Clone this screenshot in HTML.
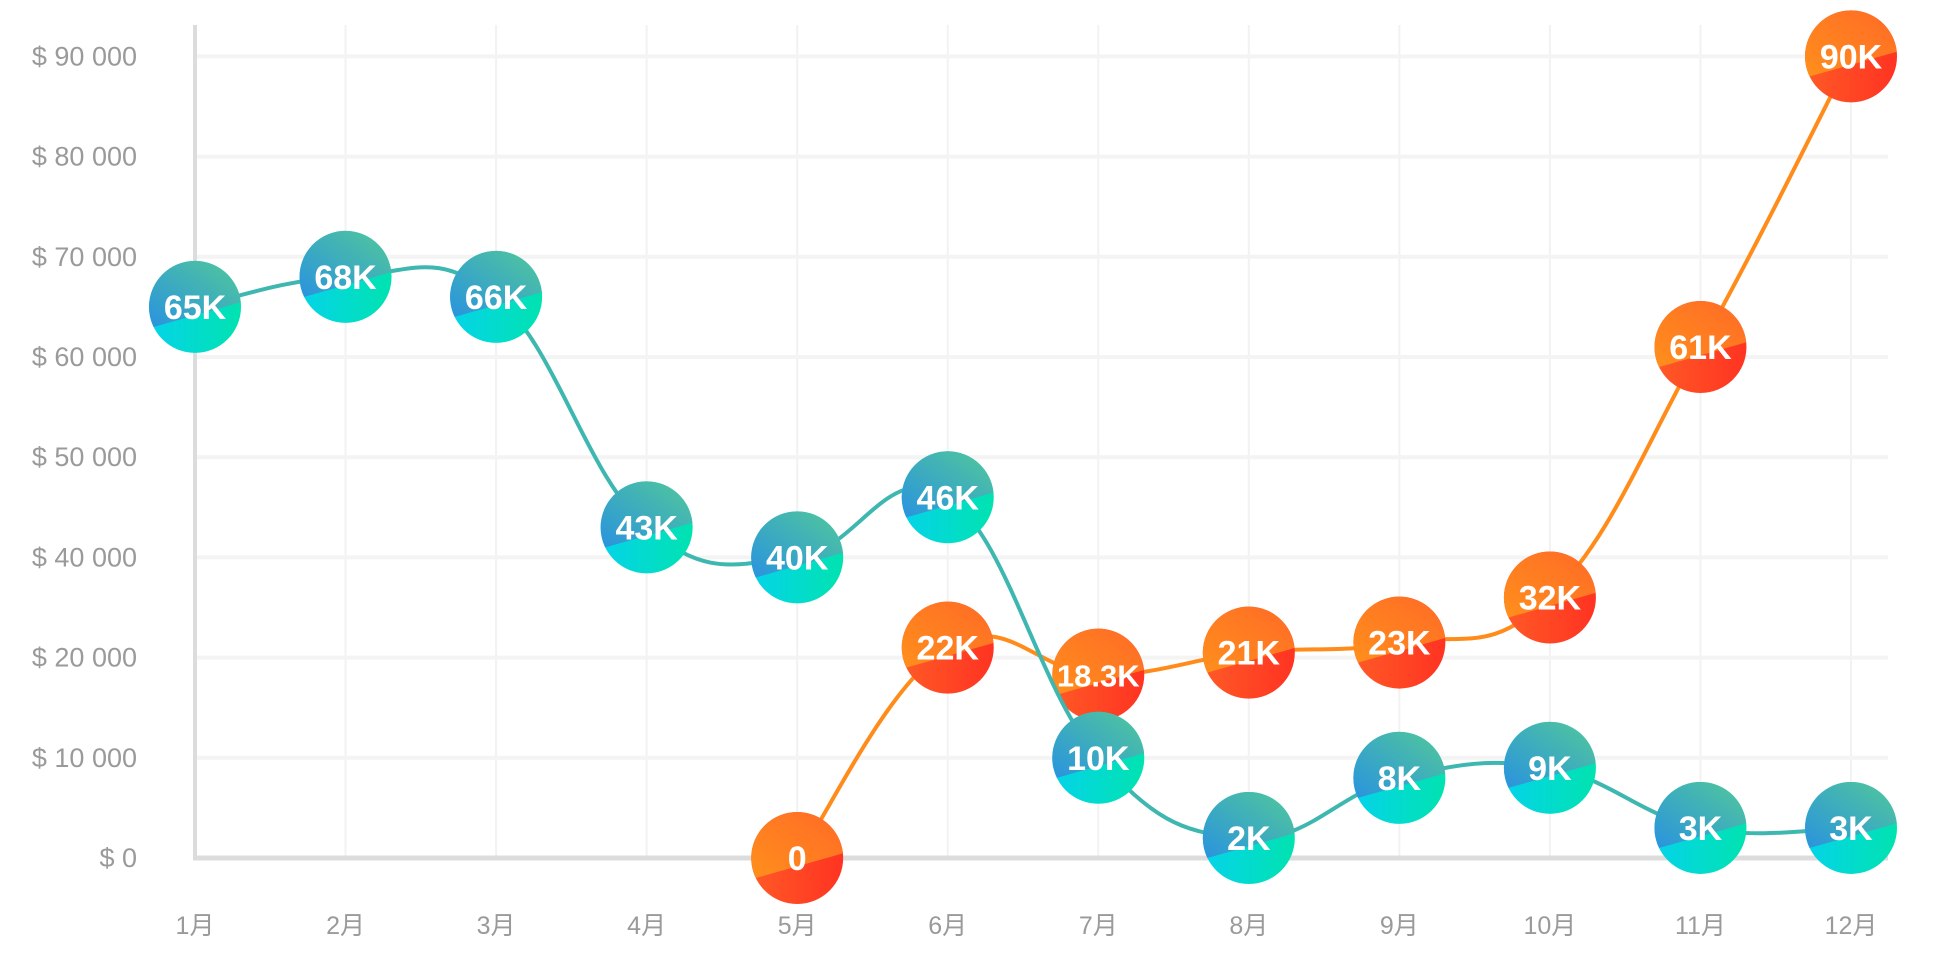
<!DOCTYPE html>
<html><head><meta charset="utf-8">
<style>
html,body{margin:0;padding:0;background:#fff;}
svg{display:block;font-family:"Liberation Sans","Noto Sans CJK SC",sans-serif;}
</style></head>
<body>
<svg id="chart" width="1947" height="977" viewBox="0 0 1947 977">
<defs>
<linearGradient id="gBlueTop" x1="0" y1="1" x2="1" y2="0"><stop offset="0" stop-color="#2a93de"/><stop offset="1" stop-color="#52c89a"/></linearGradient>
<linearGradient id="gBlueBot" x1="0" y1="0" x2="1" y2="0"><stop offset="0" stop-color="#05d3ea"/><stop offset="1" stop-color="#00e3b0"/></linearGradient>
<linearGradient id="gOrTop" x1="0" y1="1" x2="1" y2="0"><stop offset="0" stop-color="#ff8f1c"/><stop offset="1" stop-color="#ff6a26"/></linearGradient>
<linearGradient id="gOrBot" x1="0" y1="0" x2="1" y2="0"><stop offset="0" stop-color="#ff5a26"/><stop offset="1" stop-color="#ff3322"/></linearGradient>
</defs>
<g id="grid"></g>
<g id="series"></g>
</svg>
<script>
const months = ["1月","2月","3月","4月","5月","6月","7月","8月","9月","10月","11月","12月"];
const yTickValues = [0,10000,20000,40000,50000,60000,70000,80000,90000];
const yTickLabels = ["$ 0","$ 10 000","$ 20 000","$ 40 000","$ 50 000","$ 60 000","$ 70 000","$ 80 000","$ 90 000"];
const blueValues = [65000,68000,66000,43000,40000,46000,10000,2000,8000,9000,3000,3000];
const blueLabels = ["65K","68K","66K","43K","40K","46K","10K","2K","8K","9K","3K","3K"];
const orangeStart = 4;
const orangeValues = [0,22000,18300,21000,23000,32000,61000,90000];
const orangeLabels = ["0","22K","18.3K","21K","23K","32K","61K","90K"];

const NS="http://www.w3.org/2000/svg";
const X0=195, X1=1851, Y0=858, SLOT=100.2, XR=1888;
function x(i){return X0+(X1-X0)*i/(months.length-1);}
function y(v){
  for(let k=0;k<yTickValues.length-1;k++){
    const a=yTickValues[k],b=yTickValues[k+1];
    if(v<=b){return Y0-SLOT*(k+(v-a)/(b-a));}
  }
  return Y0-SLOT*(yTickValues.length-1);
}
function el(tag,attrs,parent){const e=document.createElementNS(NS,tag);for(const k in attrs)e.setAttribute(k,attrs[k]);parent.appendChild(e);return e;}
const grid=document.getElementById('grid'), series=document.getElementById('series');

months.forEach((m,i)=>{
  const l=el('line',{x1:x(i),x2:x(i),y1:25,y2:Y0,stroke:'#f2f2f2','stroke-width':2},grid);
  
  
  const t=el('text',{x:x(i),y:934,'text-anchor':'middle','font-size':25,fill:'#9a9a9a'},grid);
  t.textContent=m;
  
  
});
yTickValues.forEach((v,k)=>{
  if(v>0){
    const g=el('line',{x1:X0,x2:XR,y1:y(v),y2:y(v),stroke:'#f4f4f4','stroke-width':4},grid);
    
    
  }
  const t=el('text',{x:137,y:y(v)+9,'text-anchor':'end','font-size':27,fill:'#9a9a9a'},grid);
  t.textContent=yTickLabels[k];
  
  
});
const ax=el('line',{x1:X0,x2:X0,y1:25,y2:Y0+2,stroke:'#dcdcdc','stroke-width':4},grid);


const bx=el('line',{x1:X0-2,x2:XR,y1:Y0,y2:Y0,stroke:'#dcdcdc','stroke-width':5},grid);



function smoothPath(pts){
  let d=`M${pts[0][0]},${pts[0][1]}`;
  for(let i=0;i<pts.length-1;i++){
    const p0=pts[i-1]||pts[i],p1=pts[i],p2=pts[i+1],p3=pts[i+2]||p2;
    const t=0.2;
    const c1=[p1[0]+(p2[0]-p0[0])*t,p1[1]+(p2[1]-p0[1])*t];
    const c2=[p2[0]-(p3[0]-p1[0])*t,p2[1]-(p3[1]-p1[1])*t];
    d+=` C${c1[0]},${c1[1]} ${c2[0]},${c2[1]} ${p2[0]},${p2[1]}`;
  }
  return d;
}
function drawSeries(name,startIdx,vals,labels,color,top,bot){
  const g=el('g',{},series);
  
  
  const pts=vals.map((v,i)=>[x(startIdx+i),y(v)]);
  const p=el('path',{d:smoothPath(pts),fill:'none',stroke:color,'stroke-width':4},g);
  
  
  pts.forEach((pt,i)=>{
    const c=el('g',{transform:`translate(${pt[0]},${pt[1]})`},g);
    
    
    const R=46;
    el('circle',{r:R,fill:`url(#${bot})`},c);
    el('path',{d:`M${-R*0.9},${R*0.436} A${R},${R} 0 1 1 ${R*0.995},${-R*0.1} Z`,fill:`url(#${top})`},c);
    const t=el('text',{x:0,y:12,'text-anchor':'middle','font-size':labels[i].length>3?31:34,'font-weight':'bold',fill:'#fff'},c);
    t.textContent=labels[i];
    
    
  });
}
drawSeries('orange',orangeStart,orangeValues,orangeLabels,'#ff8c1a','gOrTop','gOrBot');
drawSeries('teal',0,blueValues,blueLabels,'#3db7b0','gBlueTop','gBlueBot');
</script>
</body></html>
